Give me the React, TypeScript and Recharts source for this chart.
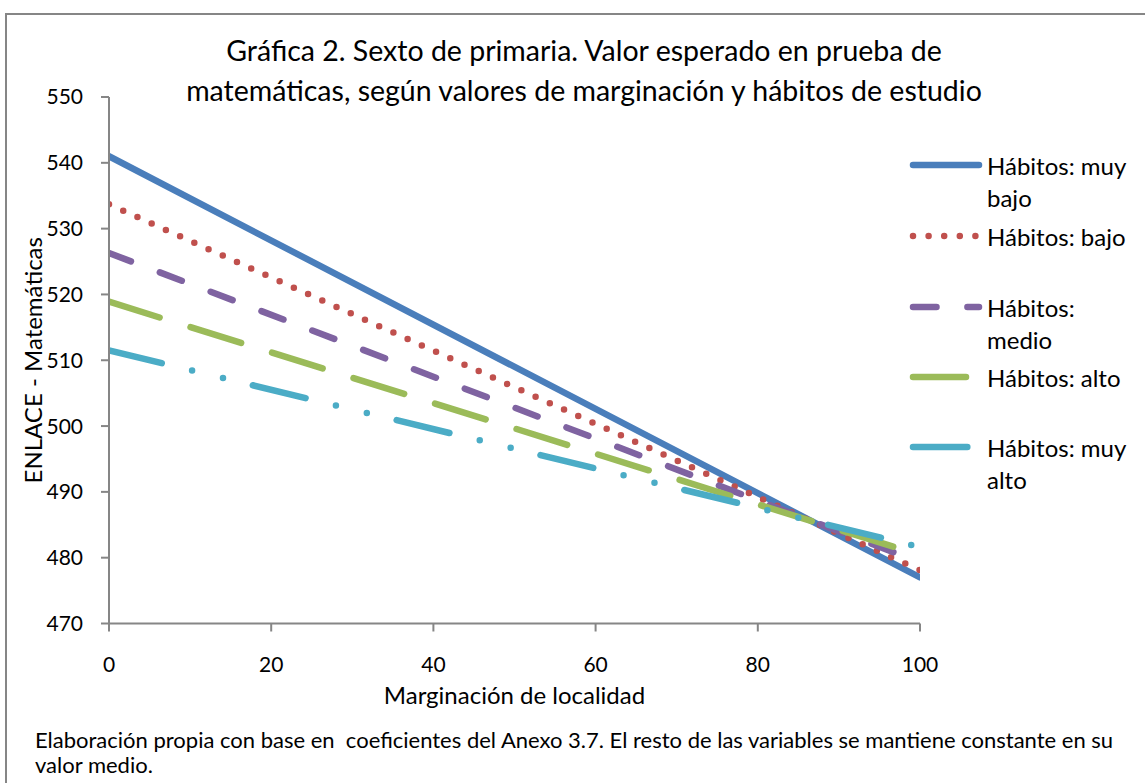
import { LineChart, Line, XAxis, YAxis, Label } from 'recharts'

// valores (recta entre marginación 0 y 100)
const marginacion = [0, 100]
const muyBajo = [541, 477]
const bajo = [533.7, 478.1]
const medio = [526.3, 479.3]
const alto = [518.9, 480.4]
const muyAlto = [511.5, 481.6]

const xTicks = [0, 20, 40, 60, 80, 100]
const yTicks = [470, 480, 490, 500, 510, 520, 530, 540, 550]

const FONT = 'Lato, "Open Sans", sans-serif'
const AXIS = '#868686'

const series = [
  { key: 'muyBajo', name: ['Hábitos: muy', 'bajo'], color: '#4a7ebb', dash: undefined, values: muyBajo },
  { key: 'bajo', name: ['Hábitos: bajo'], color: '#c0504d', dash: '0 15.6', values: bajo },
  { key: 'medio', name: ['Hábitos:', 'medio'], color: '#7f63a1', dash: '23.5 30.9', values: medio },
  { key: 'alto', name: ['Hábitos: alto'], color: '#9bbb59', dash: '53 32.4', values: alto },
  { key: 'muyAlto', name: ['Hábitos: muy', 'alto'], color: '#4bacc6', dash: '54.3 31.2 0 31.8 0 30.7', values: muyAlto },
]

const chartData = marginacion.map((m, i) => {
  const row: Record<string, number> = { m }
  series.forEach((s) => {
    row[s.key] = s.values[i]
  })
  return row
})

// centro vertical de la primera línea de texto de cada entrada
const legendRows = [20, 91, 162, 232, 302]

function SeriesLegend() {
  return (
    <svg width={240} height={360} style={{ position: 'absolute', left: 905, top: 145, overflow: 'visible' }}>
      {series.map((s, i) => {
        const y = legendRows[i]
        return (
          <g key={s.key}>
            <line
              x1={8}
              x2={74}
              y1={y}
              y2={y}
              stroke={s.color}
              strokeWidth={6.5}
              strokeLinecap="round"
              strokeDasharray={s.dash}
            />
            {s.name.map((t, j) => (
              <text
                key={j}
                x={82}
                y={y + j * 32}
                dominantBaseline="central"
                fontFamily={FONT}
                fontSize={24}
                fill="#000"
              >
                {t}
              </text>
            ))}
          </g>
        )
      })}
    </svg>
  )
}

export default function App() {
  return (
    <div
      style={{
        position: 'absolute',
        left: 0,
        top: 0,
        width: 1145,
        height: 783,
        overflow: 'hidden',
        background: '#fff',
        fontFamily: FONT,
      }}
    >
      <div
        style={{
          position: 'absolute',
          left: 5,
          top: 13,
          width: 1160,
          height: 800,
          border: `2px solid ${AXIS}`,
        }}
      />
      <div
        style={{
          position: 'absolute',
          left: 34,
          width: 1100,
          top: 30,
          textAlign: 'center',
          fontSize: 28.5,
          lineHeight: '40px',
          color: '#000',
          whiteSpace: 'nowrap',
        }}
      >
        <div>Gráfica 2. Sexto de primaria. Valor esperado en prueba de</div>
        <div>matemáticas, según valores de marginación y hábitos de estudio</div>
      </div>

      <div style={{ position: 'absolute', left: 0, top: 0 }}>
        <LineChart
          width={1145}
          height={783}
          data={chartData}
          margin={{ top: 97, right: 225, bottom: 0, left: 0 }}
        >
          <XAxis
            dataKey="m"
            type="number"
            domain={[0, 100]}
            ticks={xTicks}
            allowDataOverflow
            height={159.5}
            tickSize={8}
            tickMargin={26}
            stroke={AXIS}
            strokeWidth={2}
            tick={{ fill: '#000', fontSize: 21, fontFamily: FONT }}
          >
            <Label
              value="Marginación de localidad"
              position="insideTop"
              offset={63}
              style={{ fill: '#000', fontSize: 24, fontFamily: FONT }}
            />
          </XAxis>
          <YAxis
            type="number"
            domain={[470, 550]}
            ticks={yTicks}
            width={109}
            tickSize={8}
            tickMargin={18}
            stroke={AXIS}
            strokeWidth={2}
            tick={{ fill: '#000', fontSize: 21, fontFamily: FONT }}
          >
            <Label
              value="ENLACE - Matemáticas"
              angle={-90}
              position="insideLeft"
              offset={33}
              style={{ fill: '#000', fontSize: 24, fontFamily: FONT, textAnchor: 'middle' }}
            />
          </YAxis>
          {series.map((s) => (
            <Line
              key={s.key}
              type="linear"
              dataKey={s.key}
              name={s.name.join(' ')}
              stroke={s.color}
              strokeWidth={6.5}
              strokeLinecap="round"
              strokeDasharray={s.dash}
              dot={false}
              activeDot={false}
              isAnimationActive={false}
            />
          ))}
        </LineChart>
      </div>

      <SeriesLegend />

      <div
        style={{
          position: 'absolute',
          left: 35,
          top: 727,
          width: 1092,
          fontSize: 22,
          lineHeight: '25px',
          color: '#000',
          whiteSpace: 'pre-wrap',
        }}
      >
        {'Elaboración propia con base en  coeficientes del Anexo 3.7. El resto de las variables se mantiene constante en su valor medio.'}
      </div>
    </div>
  )
}
